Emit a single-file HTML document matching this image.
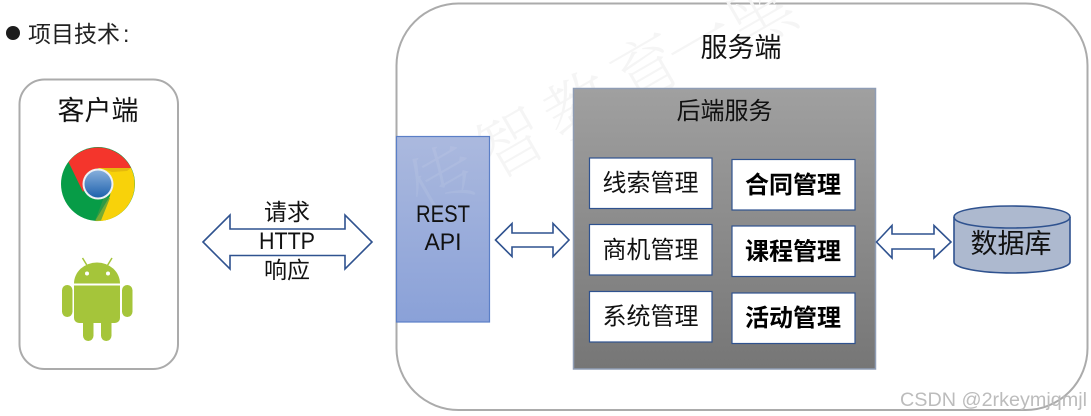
<!DOCTYPE html>
<html lang="zh">
<head>
<meta charset="utf-8">
<style>
html,body{margin:0;padding:0;background:#fff;width:1091px;height:416px;overflow:hidden}
svg{display:block}
text{font-family:"Liberation Sans","Noto Sans CJK SC",sans-serif;fill:#111;text-anchor:middle}
.wm{font-family:"Noto Serif CJK SC","Liberation Serif",serif;font-size:68px;font-weight:200;fill:#f5f5f5}
</style>
</head>
<body>
<svg width="1091" height="416" viewBox="0 0 1091 416" xmlns="http://www.w3.org/2000/svg">
<defs>
<linearGradient id="gRest" x1="0" y1="0" x2="0" y2="1"><stop offset="0" stop-color="#abb9de"/><stop offset="1" stop-color="#8aa1d8"/></linearGradient>
<linearGradient id="gBack" x1="0" y1="0" x2="0" y2="1"><stop offset="0" stop-color="#a0a0a0"/><stop offset="1" stop-color="#767676"/></linearGradient>
<linearGradient id="gBlue" x1="0" y1="0" x2="0" y2="1"><stop offset="0" stop-color="#86aedb"/><stop offset="1" stop-color="#1f62ad"/></linearGradient>
<clipPath id="restClip"><rect x="397" y="137" width="92" height="184"/></clipPath>
</defs>

<!-- heading -->
<circle cx="13" cy="33" r="7" fill="#1c1c1c"/>
<text x="28" y="42" font-size="23" style="text-anchor:start;fill:#222">项目技术<tspan dx="3">:</tspan></text>

<!-- client -->
<rect x="19.500" y="79.500" width="158.500" height="289.500" rx="25" fill="#fff" stroke="#ababab" stroke-width="2"/>
<text x="98" y="120" font-size="27">客户端</text>

<!-- chrome -->
<circle cx="98" cy="184" r="37" fill="#079c47"/>
<path d="M68.500 162A37 37 0 0 1 131 168L98 168L83 192Z" fill="#f4352c"/>
<path d="M131 168A37 37 0 0 1 95 221L110 196L112 180L98 168Z" fill="#f8d20a"/>
<path d="M104 197L95 221L101 220.500L110 198Z" fill="#3f9a44" opacity=".7"/>
<path d="M100 168L131 168L127 171L112 172Z" fill="#d9a90e" opacity=".6"/>
<circle cx="98" cy="184" r="15.500" fill="#eef1f5"/>
<circle cx="98" cy="184" r="13.500" fill="url(#gBlue)"/>

<!-- android -->
<g fill="#a5c53a">
<path d="M74 283.500A23 21 0 0 1 120 283.500Z"/>
<path d="M74 285.500H120V318A5 5 0 0 1 115 323H79A5 5 0 0 1 74 318Z"/>
<rect x="62" y="285" width="10.500" height="32" rx="5.200"/>
<rect x="122" y="285" width="10.500" height="32" rx="5.200"/>
<rect x="83" y="318" width="10.500" height="23" rx="5.200"/>
<rect x="101" y="318" width="10.500" height="23" rx="5.200"/>
<path d="M82.500 258L88 267M112 258L106.500 267" stroke="#a5c53a" stroke-width="1.500"/>
</g>
<circle cx="87" cy="273.500" r="2" fill="#fff"/>
<circle cx="108" cy="273.500" r="2" fill="#fff"/>

<!-- http arrow -->
<polygon points="203,242 230,215 230,229 345,229 345,215 372,242 345,269 345,255.500 230,255.500 230,269" fill="#fff" stroke="#2f528f" stroke-width="1.600"/>
<text x="287" y="220" font-size="23">请求</text>
<text x="287" y="249" font-size="24" textLength="56" lengthAdjust="spacingAndGlyphs">HTTP</text>
<text x="287" y="278" font-size="23">响应</text>

<!-- server -->
<rect x="396.500" y="3.500" width="691" height="406.500" rx="62" fill="#fff" stroke="#ababab" stroke-width="2"/>
<g>
<text class="wm" transform="translate(455 200) rotate(-30)">传</text>
<text class="wm" transform="translate(523 164) rotate(-30)">智</text>
<text class="wm" transform="translate(591 128) rotate(-30)">教</text>
<text class="wm" transform="translate(659 90) rotate(-30)">育</text>
<text class="wm" transform="translate(712 64) rotate(-30)">一</text>
<text class="wm" transform="translate(772 38) rotate(-30)">黑</text>
</g>
<text x="741" y="57" font-size="27">服务端</text>

<!-- rest -->
<rect x="396.500" y="136.500" width="93" height="185.500" fill="url(#gRest)" stroke="#5b7fc7" stroke-width="1.200"/>
<g clip-path="url(#restClip)"><text class="wm" style="fill:#fff;opacity:.08" transform="translate(455 200) rotate(-30)">传</text></g>
<text x="443" y="222" font-size="24" textLength="54" lengthAdjust="spacingAndGlyphs">REST</text>
<text x="443" y="250" font-size="24" textLength="37" lengthAdjust="spacingAndGlyphs">API</text>

<!-- rest arrow -->
<polygon points="495.500,240 512,223.500 512,233 553,233 553,223.500 569,240 553,256.500 553,247 512,247 512,256.500" fill="#fff" stroke="#2f528f" stroke-width="1.600"/>

<!-- backend -->
<rect x="573.500" y="88.500" width="302" height="280.500" fill="url(#gBack)" stroke="#8f9db5" stroke-width="1.500"/>
<text x="724.500" y="119" font-size="24">后端服务</text>

<g fill="#fff" stroke="#2f528f" stroke-width="1.200">
<rect x="589.500" y="158" width="122.500" height="50.500"/>
<rect x="589.500" y="224.500" width="122.500" height="50.500"/>
<rect x="589.500" y="291.500" width="122.500" height="50.500"/>
<rect x="732" y="159.500" width="123" height="50.500"/>
<rect x="732" y="226" width="123" height="50.500"/>
<rect x="732" y="293" width="123" height="50.500"/>
</g>
<g font-size="24">
<text x="650.500" y="191">线索管理</text>
<text x="650.500" y="258">商机管理</text>
<text x="650.500" y="324.500">系统管理</text>
<text x="793" y="193" font-weight="700" style="fill:#000">合同管理</text>
<text x="793" y="259.500" font-weight="700" style="fill:#000">课程管理</text>
<text x="793" y="326" font-weight="700" style="fill:#000">活动管理</text>
</g>

<!-- db arrow -->
<polygon points="876.500,242 892,225.500 892,234 934,234 934,225.500 951,242 934,258 934,249 892,249 892,258" fill="#fff" stroke="#2f528f" stroke-width="1.600"/>

<!-- database -->
<path d="M954 217C954 210 980 206 1012 206C1044 206 1070 210 1070 217V262C1070 268 1044 273 1012 273C980 273 954 268 954 262Z" fill="#adb9cf" stroke="#2f528f" stroke-width="1.600"/>
<path d="M954 217C954 224 980 228 1012 228C1044 228 1070 224 1070 217" fill="none" stroke="#2f528f" stroke-width="1.600"/>
<text x="1011" y="253" font-size="27">数据库</text>

<!-- csdn mark -->
<text x="1087" y="406" font-size="19" style="text-anchor:end;fill:#bcbcbc" textLength="187" lengthAdjust="spacingAndGlyphs">CSDN @2rkeymjqmjl</text>
</svg>
</body>
</html>
